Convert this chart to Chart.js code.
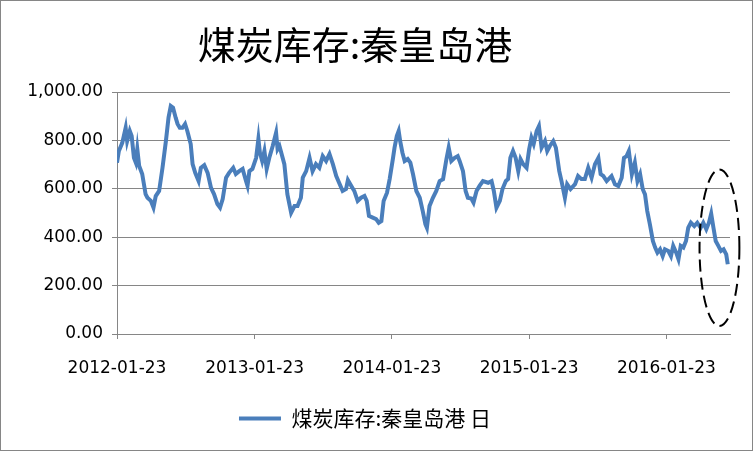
<!DOCTYPE html>
<html>
<head>
<meta charset="utf-8">
<script src="https://cdn.jsdelivr.net/npm/chart.js@4/dist/chart.umd.min.js"></script>
<style>
  html, body { margin: 0; padding: 0; background: #fff; }
  canvas { display: block; }
</style>
</head>
<body>
<canvas id="stockChart" width="753" height="451"></canvas>
<script>
const TITLE = '煤炭库存:秦皇岛港';
const SERIES_LABEL = '煤炭库存:秦皇岛港 日';
const START_DATE = '2012-01-23';
const tickLabels = ['2012-01-23', '2013-01-23', '2014-01-23', '2015-01-23', '2016-01-23'];
const yTicks = [0, 200, 400, 600, 800, 1000];

// days after 2012-01-23
const days = [
  0, 5, 14, 23, 27, 34, 39, 45, 50, 54, 59, 67, 76, 81, 90, 97, 103, 112, 121, 130,
  137, 143, 149, 156, 161, 167, 174, 181, 187, 196, 201, 208, 217, 223, 232, 241, 250, 258, 267, 274,
  281, 290, 298, 309, 316, 325, 334, 343, 347, 352, 360, 370, 376, 380, 386, 392, 398, 405, 414, 423,
  427, 432, 445, 453, 463, 472, 480, 489, 494, 503, 512, 520, 529, 538, 547, 556, 565, 574, 583, 592,
  600, 609, 614, 623, 631, 640, 649, 658, 664, 670, 680, 689, 696, 703, 709, 718, 725, 734, 738, 744,
  749, 753, 759, 765, 773, 780, 787, 796, 805, 813, 820, 824, 831, 840, 849, 858, 867, 876, 882, 889,
  898, 906, 911, 920, 927, 933, 942, 948, 956, 964, 973, 987, 996, 1002, 1009, 1018, 1025, 1034, 1040, 1046,
  1053, 1060, 1067, 1073, 1080, 1089, 1096, 1102, 1108, 1116, 1122, 1129, 1138, 1144, 1151, 1160, 1167, 1176, 1182, 1191,
  1197, 1206, 1218, 1226, 1235, 1244, 1253, 1262, 1271, 1280, 1286, 1293, 1302, 1315, 1324, 1333, 1342, 1348, 1355, 1361,
  1369, 1377, 1384, 1391, 1398, 1404, 1410, 1417, 1425, 1431, 1437, 1444, 1451, 1457, 1466, 1473, 1479, 1487, 1493, 1499,
  1506, 1513, 1519, 1526, 1535, 1543, 1552, 1559, 1567, 1574, 1580, 1586, 1592, 1599, 1606, 1613, 1620, 1624
];
const stock = [
  708, 756, 790, 852, 797, 839, 818, 728, 708, 764, 694, 661, 578, 563, 550, 522, 570, 591, 687, 797,
  894, 942, 935, 894, 868, 852, 852, 868, 839, 785, 702, 666, 632, 687, 698, 666, 604, 578, 537, 522,
  558, 646, 666, 687, 661, 673, 682, 632, 612, 673, 682, 728, 806, 749, 715, 756, 682, 728, 777, 832,
  764, 777, 702, 578, 501, 529, 529, 563, 646, 673, 728, 673, 702, 687, 735, 715, 744, 702, 653, 620,
  591, 599, 636, 612, 591, 550, 563, 570, 550, 488, 481, 475, 460, 467, 550, 584, 640, 728, 770, 818,
  839, 797, 749, 715, 723, 708, 661, 591, 563, 508, 454, 439, 529, 563, 591, 632, 640, 723, 770, 715,
  728, 735, 715, 673, 591, 563, 560, 543, 591, 612, 632, 625, 632, 591, 522, 550, 599, 632, 640, 728,
  756, 728, 673, 723, 702, 687, 764, 811, 785, 839, 859, 770, 797, 756, 777, 797, 770, 673, 632, 563,
  619, 599, 619, 653, 640, 640, 687, 646, 702, 728, 661, 653, 632, 653, 619, 612, 646, 728, 735, 756,
  660, 708, 632, 660, 598, 577, 508, 453, 384, 357, 336, 350, 322, 350, 343, 322, 364, 336, 309, 364,
  357, 384, 439, 460, 446, 460, 439, 460, 433, 460, 497, 439, 384, 364, 343, 350, 329, 288
];

// hand-drawn dashed ring around the latest data (day / value units)
const ring = { day: 1602, value: 357, halfDays: 53, top: 680, bottom: 33 };

const DAY = 86400000;
const tickDays = tickLabels.map(t => Math.round((Date.parse(t) - Date.parse(START_DATE)) / DAY));

const extras = {
  id: 'extras',
  afterDraw(chart) {
    const ctx = chart.ctx;
    const x = chart.scales.x, y = chart.scales.y;

    // title
    ctx.save();
    ctx.fillStyle = '#000';
    ctx.font = '38px "Noto Sans CJK SC"';
    ctx.textAlign = 'center';
    ctx.textBaseline = 'middle';
    ctx.fillText(TITLE, 355, 45);
    ctx.restore();

    // dashed ellipse
    const cx = x.getPixelForValue(ring.day);
    const rx = x.getPixelForValue(ring.day + ring.halfDays) - cx;
    const top = y.getPixelForValue(ring.top);
    const bottom = y.getPixelForValue(ring.bottom);
    ctx.save();
    ctx.strokeStyle = '#000';
    ctx.lineWidth = 2;
    ctx.setLineDash([12, 6]);
    ctx.beginPath();
    ctx.ellipse(cx, (top + bottom) / 2, rx, (bottom - top) / 2, 0, 0, Math.PI * 2);
    ctx.stroke();
    ctx.restore();

    // outer frame
    ctx.save();
    ctx.strokeStyle = '#868686';
    ctx.lineWidth = 1;
    ctx.strokeRect(0.5, 0.5, chart.width - 1, chart.height - 1);
    ctx.restore();
  }
};

new Chart(document.getElementById('stockChart'), {
  type: 'line',
  data: {
    datasets: [{
      label: SERIES_LABEL,
      data: days.map((d, i) => ({ x: d, y: stock[i] })),
      borderColor: '#4a7ebb',
      backgroundColor: '#4a7ebb',
      borderWidth: 4,
      pointRadius: 0,
      tension: 0,
      fill: false
    }]
  },
  options: {
    responsive: false,
    animation: false,
    layout: { padding: { top: 92, right: 23, left: 0, bottom: 12 } },
    plugins: {
      title: { display: false },
      tooltip: { enabled: false },
      legend: {
        position: 'bottom',
        labels: {
          color: '#000',
          font: { family: '"Noto Sans CJK SC"', size: 21 },
          boxWidth: 42,
          boxHeight: 4,
          padding: 10,
          generateLabels(chart) {
            return Chart.defaults.plugins.legend.labels.generateLabels(chart).map(l => {
              l.lineWidth = 0;
              l.fillStyle = '#4a7ebb';
              return l;
            });
          }
        }
      }
    },
    scales: {
      x: {
        type: 'linear',
        min: 0,
        max: 1630,
        afterBuildTicks(scale) {
          scale.ticks = tickDays.map(v => ({ value: v }));
        },
        afterFit(scale) { scale.height = 64; },
        grid: { drawOnChartArea: false, drawTicks: true, tickLength: 5, color: '#868686' },
        border: { color: '#868686' },
        ticks: {
          autoSkip: false,
          maxRotation: 0,
          padding: 19,
          color: '#000',
          font: { family: '"DejaVu Sans"', size: 17 },
          callback: (v, i) => tickLabels[i]
        }
      },
      y: {
        min: 0,
        max: 1000,
        afterBuildTicks(scale) {
          scale.ticks = yTicks.map(v => ({ value: v }));
        },
        afterFit(scale) { scale.width = 117; },
        grid: { color: '#868686', tickLength: 5 },
        border: { color: '#868686' },
        ticks: {
          padding: 9,
          color: '#000',
          font: { family: '"DejaVu Sans"', size: 17 },
          callback: v => v.toLocaleString('en-US', { minimumFractionDigits: 2, maximumFractionDigits: 2 })
        }
      }
    }
  },
  plugins: [extras]
});
</script>
</body>
</html>
